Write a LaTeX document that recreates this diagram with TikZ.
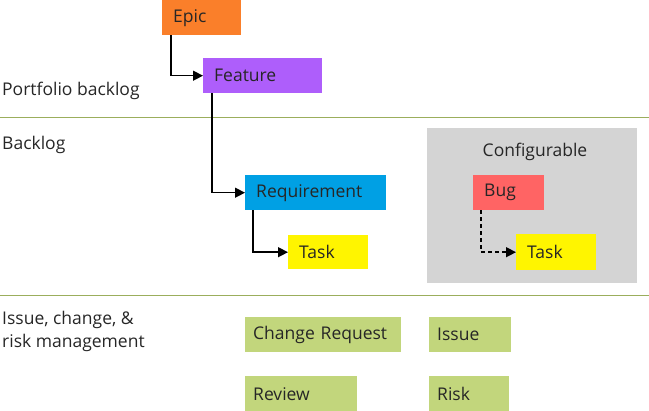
\documentclass[tikz,border=0pt]{standalone}
\usepackage{fontspec}
\setmainfont{Open Sans}
\usetikzlibrary{arrows.meta}
\definecolor{epicc}{HTML}{FA7F2A}
\definecolor{featc}{HTML}{AE5EFB}
\definecolor{reqc}{HTML}{00A0E4}
\definecolor{taskc}{HTML}{FFF500}
\definecolor{bugc}{HTML}{FF6464}
\definecolor{grnc}{HTML}{C2D67C}
\definecolor{grayc}{HTML}{D4D4D4}
\definecolor{linec}{HTML}{9BAE5C}
\definecolor{txtc}{HTML}{262626}
\begin{document}
\begin{tikzpicture}[x=1pt,y=-1pt,
  bx/.style={anchor=north west, inner xsep=11pt, inner ysep=0pt, minimum height=35pt, align=left, font=\fontsize{17.5}{20}\selectfont, text=txtc},
  gbx/.style={bx, fill=grnc, inner xsep=8pt},
  lbl/.style={anchor=west, align=left, font=\fontsize{17.5}{23}\selectfont, text=txtc, inner sep=0pt},
  arr/.style={draw=black, line width=1.4pt, -{Triangle[length=10pt,width=10pt]}},
  sep/.style={draw=linec, line width=1pt}]
\useasboundingbox (0,0) rectangle (649,411);
% separators
\coordinate (s1a) at (0,118); \coordinate (s1b) at (649,118);
\coordinate (s2a) at (0,296); \coordinate (s2b) at (649,296);
\draw[sep] (s1a) -- (s1b);
\draw[sep] (s2a) -- (s2b);
% configurable area
\node[fill=grayc, anchor=north west, minimum width=210pt, minimum height=155pt, inner sep=0pt] (conf) at (427,128) {};
\node[font=\fontsize{17.5}{20}\selectfont, text=txtc] (conft) at (535,152) {Configurable};
% left labels
\node[lbl] (lp) at (2,91) {Portfolio backlog};
\node[lbl] (lb) at (2,145) {Backlog};
\node[lbl] (li) at (2,331.5) {Issue, change, \&\\risk management};
% boxes
\node[bx, fill=epicc, text width=57pt] (epic) at (162,0) {Epic};
\node[bx, fill=featc, text width=97pt] (feat) at (203,58) {Feature};
\node[bx, fill=reqc, text width=119pt] (req) at (245,175) {Requirement};
\node[bx, fill=taskc, text width=58pt, minimum height=34pt] (task) at (288,235) {Task};
\node[bx, fill=bugc, text width=49pt] (bug) at (473,175) {Bug};
\node[bx, fill=taskc, text width=58pt, minimum height=36pt] (task2) at (516,234) {Task};
\node[gbx, text width=140pt] (cr) at (245,317) {Change Request};
\node[gbx, text width=96pt] (rev) at (245,376) {Review};
\node[gbx, text width=66pt] (iss) at (429,317) {Issue};
\node[gbx, text width=64pt] (risk) at (429,376) {Risk};
% connectors
\draw[arr] ([xshift=9pt]epic.south west) |- (feat.west);
\draw[arr] ([xshift=9pt]feat.south west) |- (req.west);
\draw[arr] ([xshift=8pt]req.south west) |- (task.west);
\draw[arr, dash pattern=on 4pt off 3pt] ([xshift=8pt]bug.south west) |- (task2.west);
\end{tikzpicture}
\end{document}
